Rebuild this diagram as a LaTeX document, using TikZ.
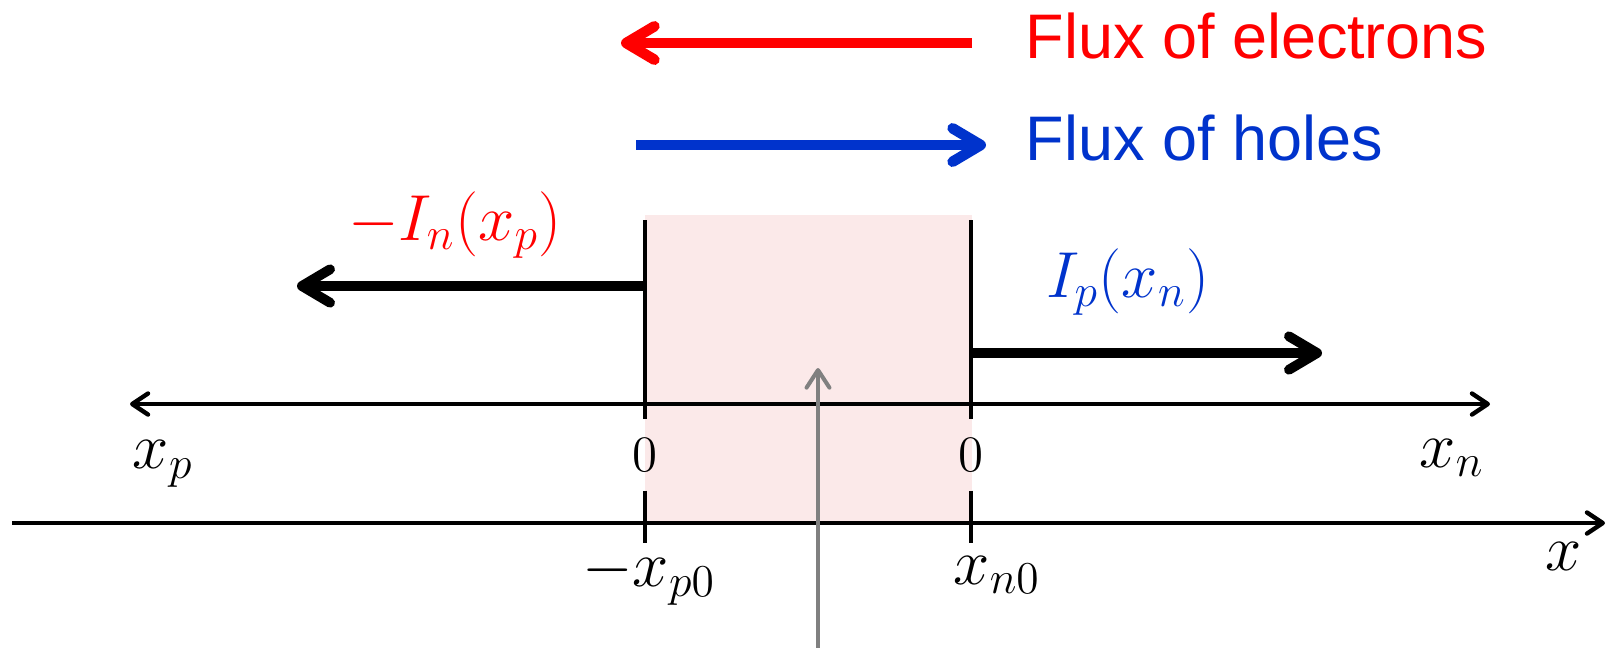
\RequirePackage{fix-cm}
\documentclass[tikz,border=0pt]{standalone}
\usepackage{amsmath}
\usepackage{fontspec}
\setmainfont{Liberation Sans}
\usepackage{tikz}
\usetikzlibrary{arrows.meta, positioning}

\definecolor{elecred}{RGB}{255,0,0}
\definecolor{holeblue}{RGB}{0,51,204}
\definecolor{deplpink}{RGB}{251,233,233}
\definecolor{arrowgray}{RGB}{128,128,128}

\begin{document}
\begin{tikzpicture}[x=0.01cm, y=-0.01cm,
    >={Straight Barb[length=4.5pt, width=6pt, round]},
    line/.style={line width=1.25pt},
    current/.style={line width=2.8pt, -{Straight Barb[length=8pt, width=9.5pt, round]}},
    flux/.style={line width=3pt, -{Straight Barb[length=8pt, width=9.5pt, round]}},
    lbl/.style={font=\fontsize{18.5pt}{22pt}\selectfont},
    zero/.style={font=\fontsize{14.5pt}{17pt}\selectfont, inner sep=0pt, minimum height=0.7cm},
    txt/.style={font=\fontsize{17.9pt}{21pt}\selectfont, anchor=base west, inner sep=0pt}]
    \useasboundingbox (0,0) rectangle (1608,647);

    \fill[deplpink] (645,215) rectangle (972,522);

    \coordinate (xl) at (12,523);
    \coordinate (xr) at (1605,523);
    \coordinate (xpEnd) at (130,404);
    \coordinate (xnEnd) at (1490,404);
    \coordinate (pTop) at (645,220);
    \coordinate (pBot) at (645,543);
    \coordinate (nTop) at (971,220);
    \coordinate (nBot) at (971,543);
    \node[zero] (p0) at (645,455) {$0$};
    \node[zero] (n0) at (971,455) {$0$};

    \draw[line, ->] (xl) -- (xr);
    \draw[line, <->] (xpEnd) -- (xnEnd);
    \draw[line] (pTop) -- (p0) (p0) -- (pBot);
    \draw[line] (nTop) -- (n0) (n0) -- (nBot);

    \coordinate (In0) at (645,286);
    \coordinate (In1) at (297,286);
    \coordinate (Ip0) at (971,353);
    \coordinate (Ip1) at (1322,353);
    \draw[current] (In0) -- (In1);
    \draw[current] (Ip0) -- (Ip1);

    \node[txt, elecred] (fe) at (1025,58) {Flux of electrons};
    \node[txt, holeblue] (fh) at (1025,160) {Flux of holes};
    \coordinate (fe0) at (972,43);
    \coordinate (fe1) at (621,43);
    \coordinate (fh0) at (636,145);
    \coordinate (fh1) at (986,145);
    \draw[flux, elecred] (fe0) -- (fe1);
    \draw[flux, holeblue] (fh0) -- (fh1);

    \coordinate (g0) at (818,650);
    \coordinate (g1) at (818,368);
    \draw[line width=1.15pt, arrowgray, -{Straight Barb[length=5pt, width=6.5pt, round]}] (g0) -- (g1);

    \node[lbl, elecred] (In) at (455,225) {$-I_n(x_p)$};
    \node[lbl, holeblue] (Ip) at (1128,282) {$I_p(x_n)$};
    \node[lbl] (xp) at (163,464) {$x_p$};
    \node[lbl] (xn) at (1452,458) {$x_n$};
    \node[lbl] (x) at (1564,556) {$x$};
    \node[lbl] (xp0) at (649,577) {$-x_{p0}$};
    \node[lbl] (xn0) at (997,575) {$x_{n0}$};
\end{tikzpicture}
\end{document}
